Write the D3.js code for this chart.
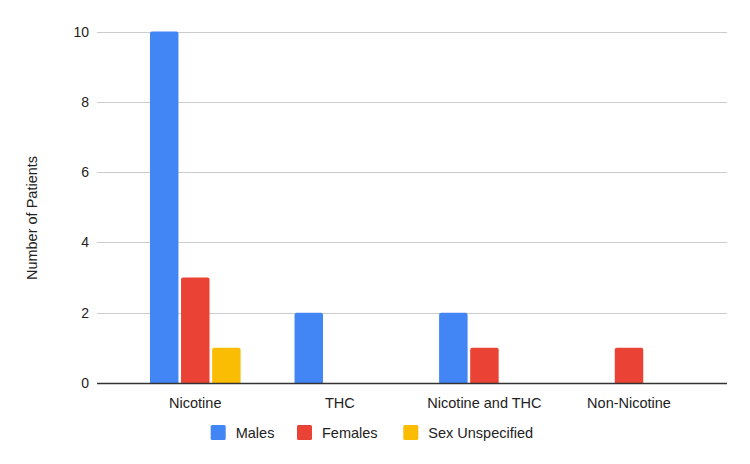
<!DOCTYPE html>
<html>
<head>
<meta charset="utf-8">
<script src="https://cdn.jsdelivr.net/npm/d3@7"></script>
<style>
  body { margin: 0; background: #fff; }
  svg { font-family: "Liberation Sans", Arial, sans-serif; }
</style>
</head>
<body>
<div id="chart"></div>
<script>
// categories and series
const categories = ["Nicotine", "THC", "Nicotine and THC", "Non-Nicotine"];
const seriesNames = ["Males", "Females", "Sex Unspecified"];
const males = [10, 2, 2, 0];
const females = [3, 0, 1, 1];
const sexUnspecified = [1, 0, 0, 0];
const yTicks = [0, 2, 4, 6, 8, 10];

const colors = ["#4285f4", "#ea4335", "#fbbc04"];
const seriesValues = [males, females, sexUnspecified];

const width = 750, height = 464;

const svg = d3.select("#chart").append("svg")
    .attr("width", width)
    .attr("height", height);

const x0 = d3.scaleBand()
    .domain(categories)
    .range([123, 701.3])
    .paddingInner(0.373)
    .paddingOuter(0.1865);

const x1 = d3.scaleBand()
    .domain(seriesNames)
    .range([0, x0.bandwidth()])
    .paddingInner(0.084);

const y = d3.scaleLinear()
    .domain([0, 10])
    .range([383, 31.5]);

// gridlines
svg.append("g")
    .selectAll("line")
    .data(yTicks.filter(d => d > 0))
    .enter()
    .append("line")
    .attr("x1", 97)
    .attr("x2", 727)
    .attr("y1", d => Math.round(y(d)) + 0.5)
    .attr("y2", d => Math.round(y(d)) + 0.5)
    .attr("stroke", "#cccccc")
    .attr("stroke-width", 1);

// y tick labels
svg.append("g")
    .selectAll("text")
    .data(yTicks)
    .enter()
    .append("text")
    .attr("x", 89)
    .attr("y", d => y(d))
    .attr("dy", "0.36em")
    .attr("text-anchor", "end")
    .style("font-size", "14px")
    .style("fill", "#222")
    .text(d => d);

// bars
const rows = [];
categories.forEach((c, i) => {
    seriesNames.forEach((s, j) => {
        rows.push({ cat: c, series: s, value: seriesValues[j][i], color: colors[j] });
    });
});

svg.append("g")
    .selectAll("path")
    .data(rows.filter(d => d.value > 0))
    .enter()
    .append("path")
    .attr("fill", d => d.color)
    .attr("d", d => {
        const bx = x0(d.cat) + x1(d.series);
        const bw = x1.bandwidth();
        const top = y(d.value);
        const bottom = y(0);
        const r = 2;
        return "M" + bx + "," + bottom +
            "L" + bx + "," + (top + r) +
            "Q" + bx + "," + top + " " + (bx + r) + "," + top +
            "L" + (bx + bw - r) + "," + top +
            "Q" + (bx + bw) + "," + top + " " + (bx + bw) + "," + (top + r) +
            "L" + (bx + bw) + "," + bottom + "Z";
    });

// baseline
svg.append("line")
    .attr("x1", 97)
    .attr("x2", 727)
    .attr("y1", Math.round(y(0)) + 0.5)
    .attr("y2", Math.round(y(0)) + 0.5)
    .attr("stroke", "#333333")
    .attr("stroke-width", 1.3);

// category labels
svg.append("g")
    .selectAll("text")
    .data(categories)
    .enter()
    .append("text")
    .attr("x", d => x0(d) + x0.bandwidth() / 2)
    .attr("y", 408)
    .attr("text-anchor", "middle")
    .style("font-size", "14.5px")
    .style("fill", "#222")
    .text(d => d);

// y axis title
svg.append("text")
    .attr("transform", "translate(37,218) rotate(-90)")
    .attr("text-anchor", "middle")
    .style("font-size", "14.5px")
    .style("fill", "#222")
    .text("Number of Patients");

// legend
const legendX = [210.7, 297, 403.3];
const legend = svg.append("g")
    .selectAll("g")
    .data(seriesNames)
    .enter()
    .append("g")
    .attr("transform", (d, i) => "translate(" + legendX[i] + ",425)");

legend.append("rect")
    .attr("width", 15)
    .attr("height", 15)
    .attr("rx", 1.5)
    .attr("fill", (d, i) => colors[i]);

legend.append("text")
    .attr("x", 25)
    .attr("y", 12.5)
    .style("font-size", "14.5px")
    .style("fill", "#222")
    .text(d => d);
</script>
</body>
</html>
